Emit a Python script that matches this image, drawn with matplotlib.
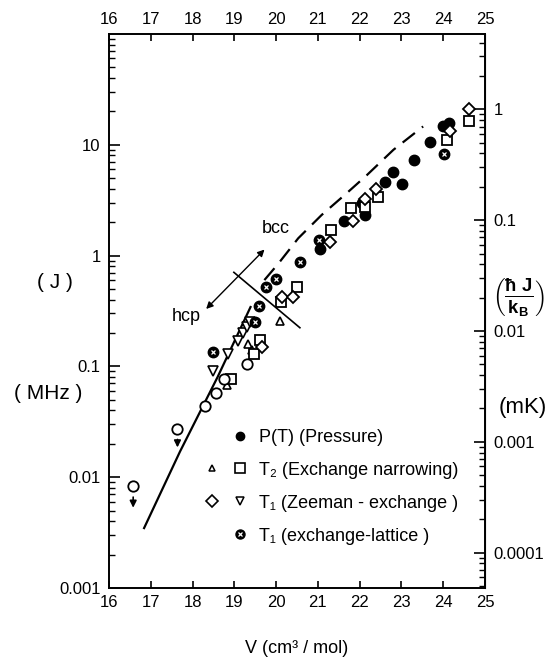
import matplotlib
matplotlib.use("Agg")
import matplotlib.pyplot as plt
from matplotlib.lines import Line2D
from matplotlib.legend_handler import HandlerTuple

plt.rcParams['font.family'] = ['Liberation Sans', 'DejaVu Sans']
plt.rcParams['mathtext.fontset'] = 'custom'
plt.rcParams['mathtext.rm'] = 'Liberation Sans'
plt.rcParams['mathtext.it'] = 'Liberation Sans'
plt.rcParams['mathtext.bf'] = 'Liberation Sans:bold'
plt.rcParams['mathtext.default'] = 'regular'

# ---- data (V in cm3/mol, J in MHz) ----
pressure_V = [21.04, 21.63, 22.05, 22.14, 22.60, 22.80, 23.02, 23.30, 23.69, 24.00, 24.15]
pressure_J = [1.15, 2.05, 3.0, 2.3, 4.6, 5.7, 4.4, 7.3, 10.6, 14.8, 15.6]

t2_tri_V = [18.82, 19.33, 19.42, 20.10]
t2_tri_J = [0.068, 0.158, 0.14, 0.254]

t2_sq_V = [18.92, 19.46, 19.61, 20.12, 20.50, 21.31, 21.80, 22.14, 22.43, 24.08, 24.62]
t2_sq_J = [0.077, 0.128, 0.174, 0.38, 0.52, 1.70, 2.70, 2.75, 3.4, 11.0, 16.4]

t1_dia_V = [19.67, 20.15, 20.40, 21.30, 21.83, 22.14, 22.40, 24.17, 24.62]
t1_dia_J = [0.15, 0.42, 0.42, 1.33, 2.05, 3.25, 4.0, 13.2, 21.0]

t1_tri_V = [18.50, 18.85, 19.10, 19.21, 19.30, 19.38]
t1_tri_J = [0.091, 0.13, 0.168, 0.20, 0.225, 0.25]

t1_lat_V = [18.50, 19.50, 19.60, 19.76, 20.00, 20.58, 21.02, 24.02]
t1_lat_J = [0.134, 0.25, 0.35, 0.52, 0.61, 0.88, 1.38, 8.3]

open_V = [16.58, 17.64, 18.30, 18.57, 18.75, 19.31]
open_J = [0.0083, 0.0272, 0.044, 0.057, 0.077, 0.105]
arrow_V = [16.58, 17.64]
arrow_from_J = [0.0070, 0.0232]
arrow_to_J = [0.0050, 0.0175]

hcp_line_V = [16.83, 17.70, 18.60, 19.40]
hcp_line_J = [0.0034, 0.017, 0.080, 0.35]

bcc_line_V = [19.72, 20.06, 20.53, 21.09, 21.69, 22.17, 22.81, 23.52]
bcc_line_J = [0.60, 0.85, 1.43, 2.32, 3.65, 5.3, 9.0, 14.6]

boundary_V = [18.99, 20.57]
boundary_J = [0.705, 0.223]
phase_arrow_V = [18.28, 19.77]
phase_arrow_J = [0.316, 1.18]

x_ticks = list(range(16, 26))
y_ticks = [0.001, 0.01, 0.1, 1, 10]
y_tick_labels = ['0.001', '0.01', '0.1', '1', '10']
r_ticks = [0.0001, 0.001, 0.01, 0.1, 1]
r_tick_labels = ['0.0001', '0.001', '0.01', '0.1', '1']
h_over_kB = 0.048  # mK per MHz

fig = plt.figure(figsize=(5.53, 6.64), dpi=100)
ax = fig.add_axes([0.197, 0.1145, 0.680, 0.8345])
ax.set_yscale('log')
ax.set_xlim(16, 25)
ax.set_ylim(0.001, 100)

lw = 1.6
ms = 7.5
ax.plot(hcp_line_V, hcp_line_J, color='black', lw=lw, solid_capstyle='butt')
ax.plot(bcc_line_V, bcc_line_J, color='black', lw=lw, dashes=(7, 4))
ax.plot(boundary_V, boundary_J, color='black', lw=1.2)
ax.annotate('', xy=(phase_arrow_V[1], phase_arrow_J[1]), xytext=(phase_arrow_V[0], phase_arrow_J[0]),
            arrowprops=dict(arrowstyle='<|-|>', color='black', lw=1.0, mutation_scale=10))
ax.text(20.0, 1.75, 'bcc', fontsize=13, ha='center', va='center')
ax.text(17.85, 0.28, 'hcp', fontsize=13, ha='center', va='center')

mk = dict(color='black', linestyle='none')
ax.plot(pressure_V, pressure_J, marker='o', ms=ms, **mk)
ax.plot(t2_tri_V, t2_tri_J, marker='^', ms=6, mfc='white', mew=1.2, **mk)
ax.plot(t2_sq_V, t2_sq_J, marker='s', ms=7, mfc='white', mew=1.3, **mk)
ax.plot(t1_dia_V, t1_dia_J, marker='D', ms=6.5, mfc='white', mew=1.3, **mk)
ax.plot(t1_tri_V, t1_tri_J, marker='v', ms=6.5, mfc='white', mew=1.2, **mk)
ax.plot(t1_lat_V, t1_lat_J, marker='o', ms=ms, **mk)
ax.plot(t1_lat_V, t1_lat_J, marker='x', ms=3.5, mew=0.9, color='white', linestyle='none')
ax.plot(open_V, open_J, marker='o', ms=ms, mfc='white', mew=1.3, **mk)
for v, j0, j1 in zip(arrow_V, arrow_from_J, arrow_to_J):
    ax.annotate('', xy=(v, j1), xytext=(v, j0),
                arrowprops=dict(arrowstyle='-|>', color='black', lw=1.2, mutation_scale=10))

# axes styling
for s in ax.spines.values():
    s.set_linewidth(1.4)
ax.set_xticks(x_ticks)
ax.set_xticklabels([str(t) for t in x_ticks])
ax.set_yticks(y_ticks)
ax.set_yticklabels(y_tick_labels)
ax.tick_params(axis='x', which='both', direction='in', top=True, labeltop=True,
               labelsize=12, length=5, width=1.2, pad=5)
ax.tick_params(axis='y', which='major', direction='in', right=False, labelsize=12,
               length=8, width=1.2, pad=6)
ax.tick_params(axis='y', which='minor', direction='in', right=False, length=4.5, width=1.0)

sec = ax.secondary_yaxis('right', functions=(lambda y: y * h_over_kB, lambda y: y / h_over_kB))
sec.set_yscale('log')
sec.set_yticks(r_ticks)
sec.set_yticklabels(r_tick_labels)
sec.tick_params(which='major', direction='in', labelsize=12, length=8, width=1.2, pad=6)
sec.tick_params(which='minor', direction='in', length=4.5, width=1.0)

ax.set_xlabel('V (cm³ / mol)', fontsize=13, labelpad=22)
fig.text(0.10, 0.575, '( J )', fontsize=15, ha='center', va='center')
fig.text(0.087, 0.408, '( MHz )', fontsize=15, ha='center', va='center')
fig.text(0.937, 0.553, r'$\left(\frac{\mathbf{\hbar\ J}}{\mathbf{k_B}}\right)$', fontsize=19,
         ha='center', va='center')
fig.text(0.945, 0.387, '(mK)', fontsize=16, ha='center', va='center')

# legend
blank = Line2D([], [], linestyle='none')
h_p = Line2D([], [], marker='o', ms=6, **mk)
h_t2a = Line2D([], [], marker='^', ms=5, mfc='white', mew=1.1, **mk)
h_t2b = Line2D([], [], marker='s', ms=6.5, mfc='white', mew=1.2, **mk)
h_t1a = Line2D([], [], marker='D', ms=6.5, mfc='white', mew=1.2, **mk)
h_t1b = Line2D([], [], marker='v', ms=6, mfc='white', mew=1.1, **mk)
h_lat_a = Line2D([], [], marker='o', ms=6.5, **mk)
h_lat_b = Line2D([], [], marker='x', ms=3, mew=0.9, color='white', linestyle='none')
lat_pair = (h_lat_a, h_lat_b)
ax.legend([(blank, h_p), (h_t2a, h_t2b), (h_t1a, h_t1b), (blank, lat_pair)],
          ['P(T) (Pressure)', 'T₂ (Exchange narrowing)', 'T₁ (Zeeman - exchange )', 'T₁ (exchange-lattice )'],
          handler_map={tuple: HandlerTuple(ndivide=None, pad=0.6),
                       lat_pair: HandlerTuple(ndivide=1)},
          loc='lower left', bbox_to_anchor=(0.225, 0.062), frameon=False, fontsize=13,
          handlelength=2.6, handletextpad=0.5, labelspacing=0.88, borderpad=0)

fig.savefig('out.png', dpi=100)
